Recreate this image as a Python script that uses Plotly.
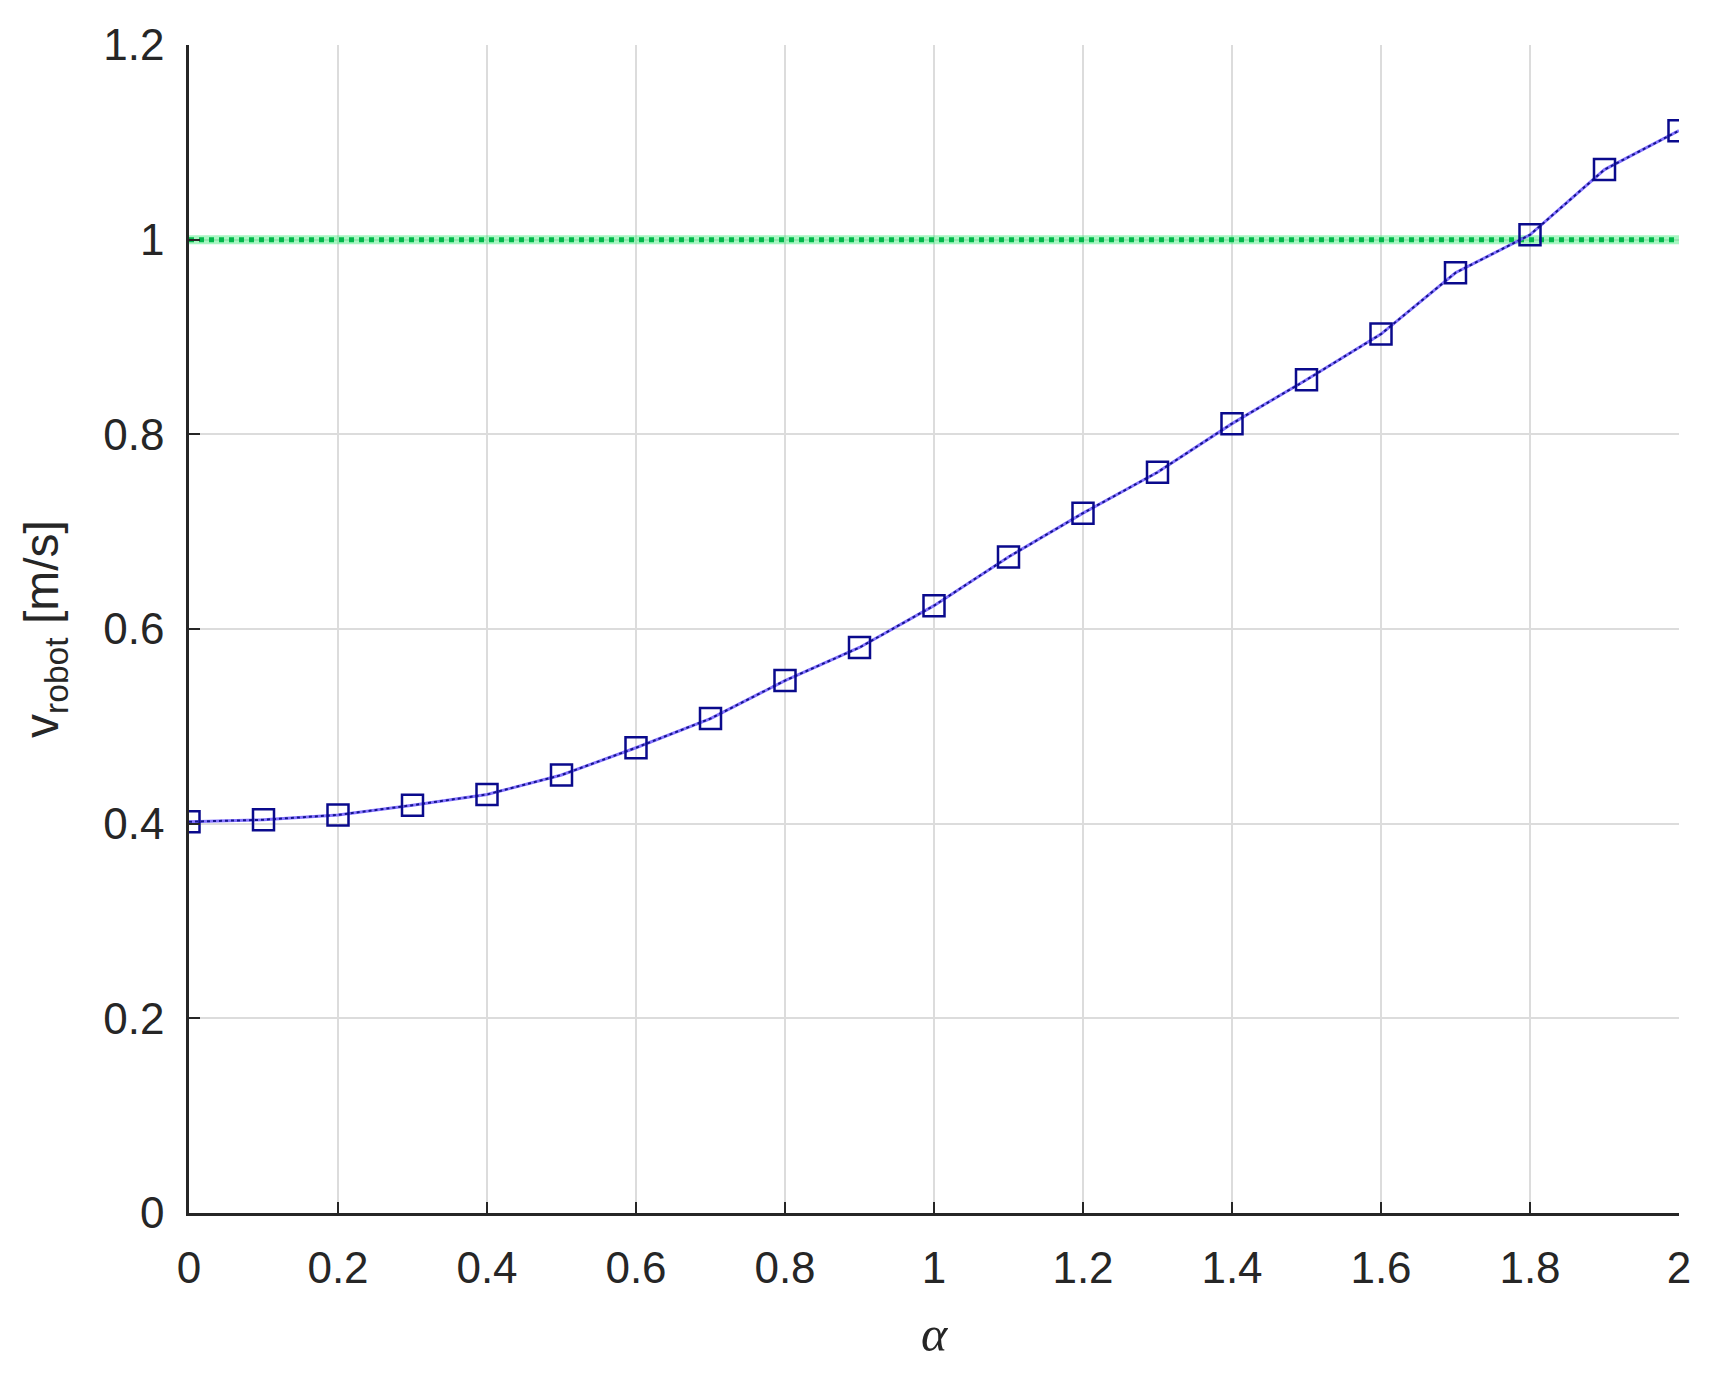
import plotly.graph_objects as go

# data
alpha = [0.0, 0.1, 0.2, 0.3, 0.4, 0.5, 0.6, 0.7, 0.8, 0.9, 1.0,
         1.1, 1.2, 1.3, 1.4, 1.5, 1.6, 1.7, 1.8, 1.9, 2.0]
v_robot = [0.402, 0.404, 0.409, 0.419, 0.430, 0.450, 0.478, 0.508, 0.547, 0.581, 0.624,
           0.674, 0.719, 0.761, 0.811, 0.856, 0.903, 0.966, 1.005, 1.072, 1.112]
ref_x = [0, 2]
ref_v = [1, 1]

x_ticks = [0, 0.2, 0.4, 0.6, 0.8, 1, 1.2, 1.4, 1.6, 1.8, 2]
y_ticks = [0, 0.2, 0.4, 0.6, 0.8, 1, 1.2]

txt = "#262626"
fnt = "Arial, Liberation Sans, sans-serif"

fig = go.Figure()

# reference speed (green dotted with a soft halo)
fig.add_trace(go.Scatter(x=ref_x, y=ref_v, mode="lines",
                         line=dict(color="rgba(60,235,120,0.45)", width=9),
                         hoverinfo="skip", showlegend=False))
fig.add_trace(go.Scatter(x=ref_x, y=ref_v, mode="lines",
                         line=dict(color="#00b84a", width=5, dash="dot"),
                         showlegend=False))

# robot speed curve
fig.add_trace(go.Scatter(x=alpha, y=v_robot, mode="lines",
                         line=dict(color="rgba(110,90,255,0.85)", width=3),
                         hoverinfo="skip", showlegend=False))
fig.add_trace(go.Scatter(x=alpha, y=v_robot, mode="lines+markers",
                         line=dict(color="#14148c", width=2, dash="dot"),
                         marker=dict(symbol="square-open", size=21, color="#0a0a8c",
                                     line=dict(width=2.5, color="#0a0a8c")),
                         showlegend=False))

# page body adds an 8px offset, so the figure is a bit smaller than the window
fig.update_layout(
    width=1708, height=1357,
    margin=dict(l=181, r=37, t=30, b=151),
    plot_bgcolor="white", paper_bgcolor="white",
    font=dict(family=fnt, color=txt, size=44),
)

fig.update_xaxes(
    range=[0, 2], tickvals=x_ticks,
    showgrid=True, gridcolor="#dcdcdc", gridwidth=1.5, zeroline=False,
    showline=True, linecolor=txt, linewidth=2.5, mirror=False,
    ticks="inside", ticklen=11, tickwidth=2, tickcolor=txt,
    ticklabelstandoff=14,
    tickfont=dict(size=44, family=fnt, color=txt),
    title=dict(text="<i>α</i>", font=dict(size=50, family="Liberation Serif, Times New Roman, serif", color=txt),
               standoff=26),
)
fig.update_yaxes(
    range=[0, 1.2], tickvals=y_ticks,
    showgrid=True, gridcolor="#dcdcdc", gridwidth=1.5, zeroline=False,
    showline=True, linecolor=txt, linewidth=2.5, mirror=False,
    ticks="inside", ticklen=11, tickwidth=2, tickcolor=txt,
    ticklabelstandoff=13,
    tickfont=dict(size=44, family=fnt, color=txt),
    title=dict(text="v<sub>robot</sub> [m/s]", font=dict(size=48, family=fnt, color=txt),
               standoff=30),
)

fig.write_html("out.html")
